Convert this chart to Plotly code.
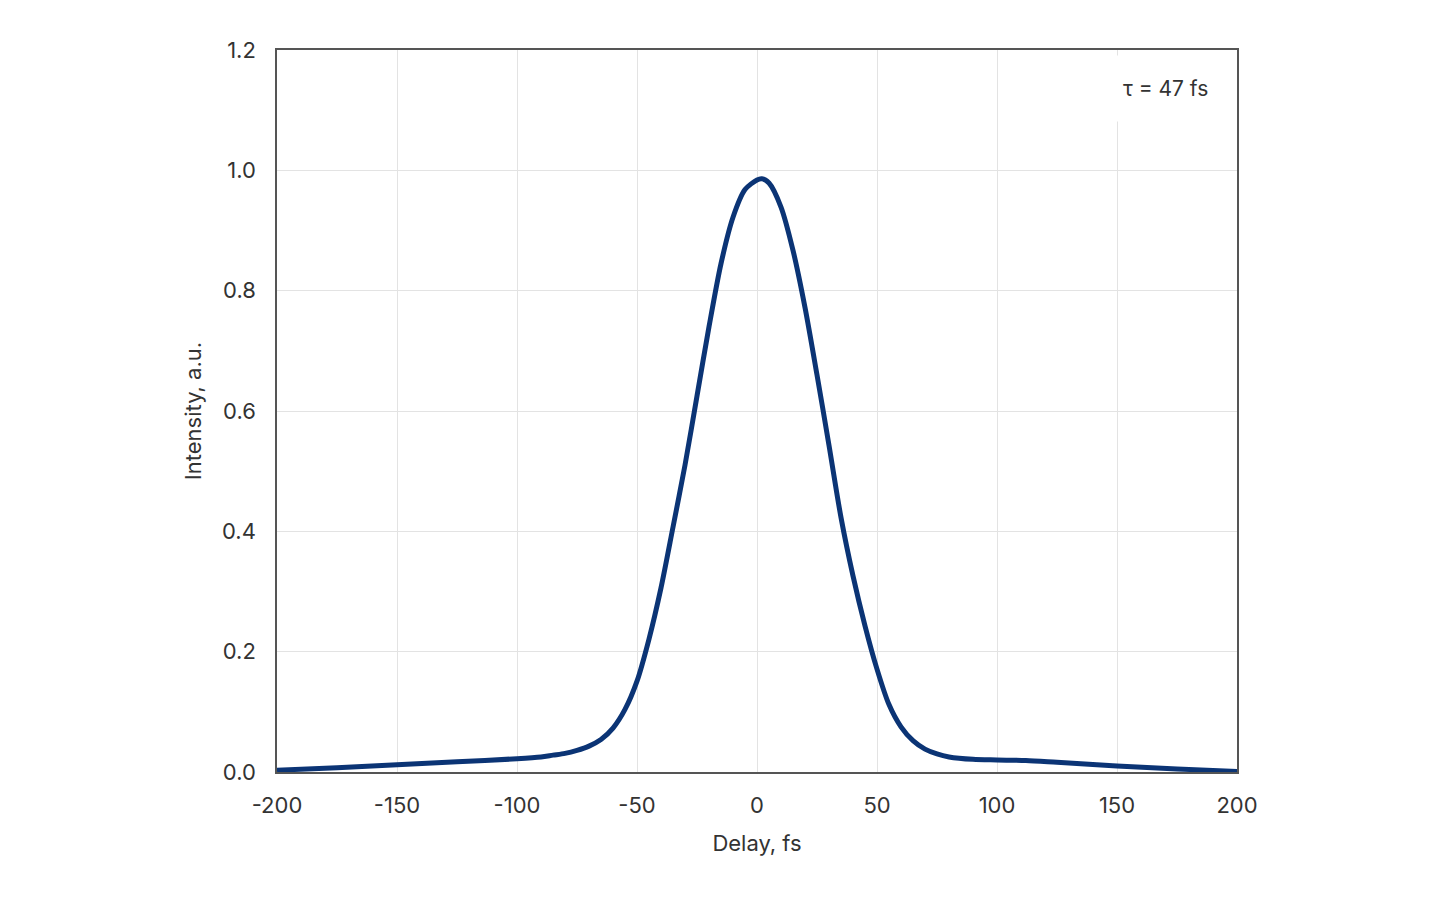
import plotly.graph_objects as go

delay_fs = [-200, -175, -150, -125, -100, -90, -85, -80, -75, -70, -65, -60, -55, -50, -45, -40,
            -35, -30, -25, -20, -15, -10, -5, 0, 2, 5, 10, 15, 20, 25, 30, 35, 40, 45, 50, 55,
            60, 65, 70, 75, 80, 90, 100, 112, 125, 150, 175, 200]
intensity = [0.003, 0.007, 0.012, 0.017, 0.022, 0.025, 0.028, 0.031, 0.036, 0.043, 0.054, 0.073, 0.104, 0.151, 0.221, 0.306,
             0.407, 0.51, 0.625, 0.74, 0.845, 0.922, 0.968, 0.984, 0.986, 0.979, 0.939, 0.867, 0.772, 0.66, 0.543, 0.423, 0.326, 0.243, 0.171, 0.112,
             0.075, 0.052, 0.038, 0.03, 0.025, 0.021, 0.02, 0.019, 0.016, 0.01, 0.005, 0.001]

annotation_text = "τ = 47 fs"

fig = go.Figure()
fig.add_trace(go.Scatter(
    x=delay_fs, y=intensity, mode="lines",
    line=dict(color="#0b3475", width=5, shape="spline", smoothing=0.8),
    hoverinfo="skip", showlegend=False,
))

font_family = "Inter, 'Open Sans', sans-serif"
fig.update_layout(
    width=1440, height=900,
    margin=dict(l=269, r=211, t=42, b=136, autoexpand=False),
    paper_bgcolor="white", plot_bgcolor="white",
    font=dict(family=font_family, size=22, color="#333333"),
    xaxis=dict(
        range=[-200, 200], tickmode="array",
        tickvals=[-200, -150, -100, -50, 0, 50, 100, 150, 200],
        ticktext=["-200", "-150", "-100", "-50", "0", "50", "100", "150", "200"],
        showgrid=True, gridcolor="#e3e3e3", gridwidth=1,
        zeroline=False, showline=True, linecolor="#555555", linewidth=1.5, mirror=True,
        ticks="", ticklabelstandoff=13, automargin=False,
        title=dict(text="Delay, fs", standoff=18, font=dict(size=22)),
    ),
    yaxis=dict(
        range=[0, 1.2], tickmode="array",
        tickvals=[0, 0.2, 0.4, 0.6, 0.8, 1.0, 1.2],
        ticktext=["0.0", "0.2", "0.4", "0.6", "0.8", "1.0", "1.2"],
        showgrid=True, gridcolor="#e3e3e3", gridwidth=1,
        zeroline=False, showline=True, linecolor="#555555", linewidth=1.5, mirror=True,
        ticks="", ticklabelstandoff=15, automargin=False,
        title=dict(text="Intensity, a.u.", standoff=14, font=dict(size=22)),
    ),
    annotations=[dict(
        text=annotation_text, xref="paper", yref="paper", x=0.925, y=0.947,
        xanchor="center", yanchor="middle", showarrow=False,
        bgcolor="white", borderpad=20, font=dict(size=21, color="#333333"),
    )],
)

fig.write_html("out.html")
